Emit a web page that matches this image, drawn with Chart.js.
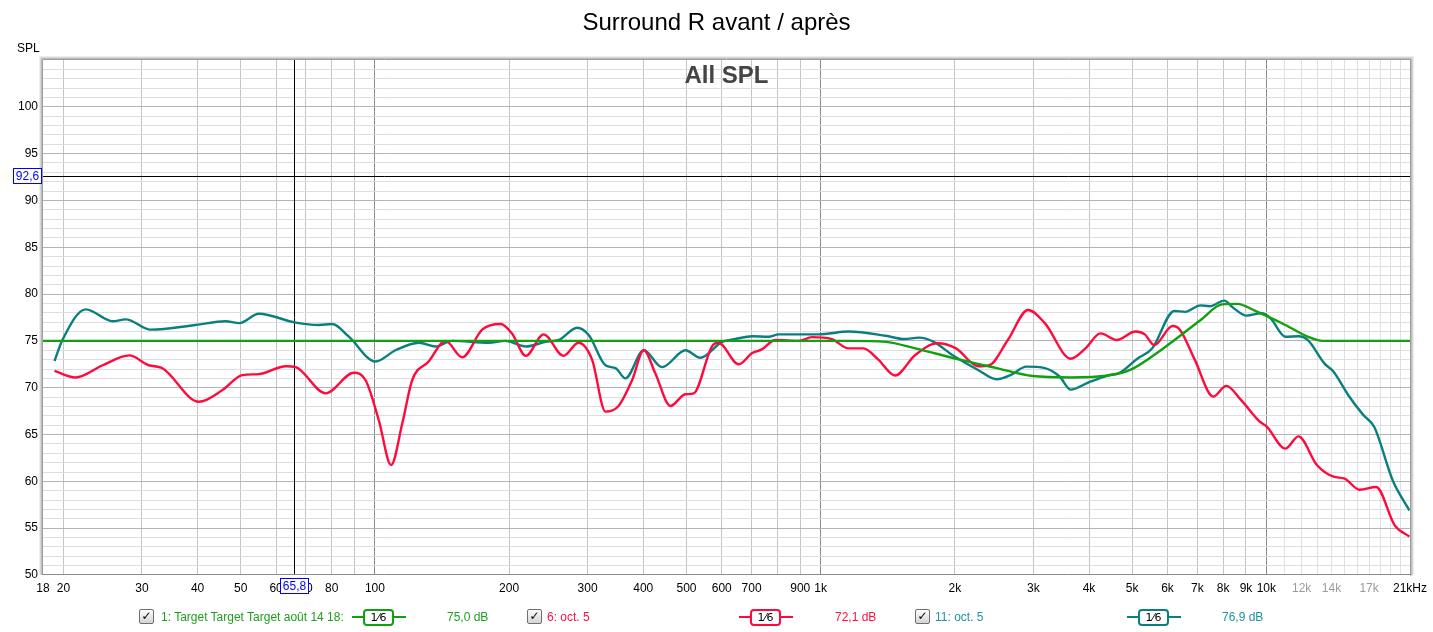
<!DOCTYPE html>
<html>
<head>
<meta charset="utf-8">
<script src="https://cdn.jsdelivr.net/npm/chart.js@4.4.0/dist/chart.umd.min.js"></script>
<style>
body { margin:0; background:#fff; font-family:"Liberation Sans", Arial, sans-serif; }
#wrap { position:relative; width:1433px; height:632px; overflow:hidden; }
#graphe { position:absolute; left:0; top:0; }
#titre { position:absolute; left:0; top:7px; width:1433px; text-align:center; font-size:24px; line-height:30px; color:#000; }
#spl { position:absolute; left:17px; top:41px; font-size:12px; line-height:14px; color:#000; }
.leg { position:absolute; top:609px; height:16px; line-height:16px; font-size:12px; white-space:nowrap; }
.chk { position:absolute; top:609px; width:13px; height:13px; border:1px solid #6f6f6f; border-radius:2px;
       background:linear-gradient(#fdfdfd,#d4d4d4); font-family:"DejaVu Sans", sans-serif; font-size:12px; font-weight:bold;
       line-height:13px; text-align:center; color:#000; }
.trait { position:absolute; top:616px; height:2px; }
.boite { position:absolute; top:609px; width:27px; height:13px; border:2px solid; border-radius:4px; background:#fff;
         font-family:"DejaVu Sans", sans-serif; font-size:11px; line-height:13px; text-align:center; color:#000; }
</style>
</head>
<body>
<div id="wrap">
  <canvas id="graphe" width="1433" height="632"></canvas>
  <div id="titre">Surround R avant / après</div>
  <div id="spl">SPL</div>

  <div class="chk" style="left:139px">✓</div>
  <div class="leg" style="left:161px;color:#1c9f1c">1: Target Target Target août 14 18:</div>
  <div class="trait" style="left:352px;width:54px;background:#10a010"></div>
  <div class="boite" style="left:363px;border-color:#10a010">1⁄6</div>
  <div class="leg" style="left:447px;color:#1c9f1c">75,0 dB</div>

  <div class="chk" style="left:527px">✓</div>
  <div class="leg" style="left:547px;color:#ff1040">6: oct. 5</div>
  <div class="trait" style="left:739px;width:54px;background:#ff0a3c"></div>
  <div class="boite" style="left:750px;border-color:#ff0a3c">1⁄6</div>
  <div class="leg" style="left:835px;color:#ff1040">72,1 dB</div>

  <div class="chk" style="left:915px">✓</div>
  <div class="leg" style="left:935px;color:#1a95a0">11: oct. 5</div>
  <div class="trait" style="left:1127px;width:54px;background:#0a7f80"></div>
  <div class="boite" style="left:1138px;border-color:#0a7f80">1⁄6</div>
  <div class="leg" style="left:1222px;color:#1a95a0">76,9 dB</div>
</div>

<script>
// courbes (Hz / dB)

const cibleFreq = [18, 1000, 1155, 1399, 1630, 2053, 2483, 2990, 3639, 4406, 4947, 5870, 7110, 7955, 8610, 9440, 11030, 12380, 13370, 14500, 21000];
const cibleSpl  = [75, 75, 75, 74.9, 74.2, 73.0, 72.1, 71.25, 71.1, 71.3, 71.9, 74.2, 77.2, 78.9, 78.95, 78.2, 76.7, 75.45, 75.0, 75.0, 75.0];

const mesure6Freq = [19.1, 21.3, 24.5, 28.1, 31.1, 33.3, 40.3, 45.5, 50.4, 54.9, 63.1, 66.4, 77.5, 89.7, 95.3, 102, 108.7, 115.2, 121.2, 132,
    144, 157, 174, 191.3, 203, 218, 239, 265, 286, 307, 329, 352, 377.5, 401, 426, 460, 497, 519, 570, 590,
    655, 702, 738, 791, 893, 956, 1059, 1155, 1247, 1347, 1468, 1630, 1828, 2012, 2256, 2390, 2630, 2921, 3184, 3639,
    3928, 4243, 4620, 5085, 5335, 5600, 6158, 6397, 6907, 7598, 8128, 8770, 9650, 10020, 11030, 11800, 12980, 14150, 14980, 16180,
    17630, 19410, 20930];
const mesure6Spl = [71.8, 71.1, 72.4, 73.45, 72.4, 72.1, 68.5, 69.75, 71.35, 71.45, 72.3, 72.2, 69.4, 71.6, 70.8, 66.55, 61.75, 66.2, 70.8, 72.8,
    75.0, 73.25, 76.2, 76.8, 75.8, 73.4, 75.7, 73.4, 74.8, 73.0, 67.45, 68.05, 70.8, 74.0, 71.5, 68.05, 69.3, 69.4, 74.4, 74.8,
    72.5, 73.7, 74.1, 75.1, 75.0, 75.4, 75.2, 74.2, 74.2, 73.0, 71.3, 73.5, 74.75, 74.2, 72.3, 72.4, 75.1, 78.3, 76.9, 73.1,
    74.2, 75.8, 75.1, 76.0, 75.7, 74.55, 76.6, 76.2, 73.0, 69.05, 70.2, 68.7, 66.4, 65.85, 63.5, 64.8, 61.75, 60.5, 60.3, 59.1,
    59.4, 55.3, 54.1];

const mesure11Freq = [19.1, 19.9, 22.45, 25.8, 27.6, 31.4, 39.6, 46.2, 49.6, 54.9, 66.4, 74.9, 80.2, 87.4, 100.3, 111.2, 125.5, 136.8, 149, 180,
    196, 218, 241.5, 258.6, 284.2, 302, 329, 346.6, 364.8, 401, 440.7, 497.4, 537, 601, 644, 701.6, 764, 805, 990, 1155,
    1399, 1539, 1662, 1794, 1974, 2256, 2483, 2680, 2893, 3184, 3436, 3639, 4004, 4406, 4666, 5134, 5542, 6217, 6580, 7110,
    7455, 8046, 8444, 9024, 9745, 10220, 11030, 11800, 12380, 13490, 14150, 15270, 16490, 17460, 19210, 20930];
const mesure11Spl = [72.85, 75.1, 78.37, 77.1, 77.3, 76.2, 76.7, 77.1, 76.9, 77.9, 76.95, 76.7, 76.8, 75.45, 72.8, 74.0, 74.8, 74.4, 75.0, 74.8,
    75.0, 74.4, 74.9, 75.1, 76.4, 75.6, 72.4, 72.1, 71.0, 74.0, 72.2, 74.0, 73.2, 74.9, 75.2, 75.5, 75.45, 75.7, 75.7, 76.0,
    75.55, 75.2, 75.35, 74.9, 73.5, 71.9, 70.9, 71.4, 72.25, 72.1, 71.2, 69.8, 70.6, 71.3, 71.55, 73.1, 74.2, 78.2, 78.1, 78.8,
    78.7, 79.3, 78.5, 77.7, 77.95, 77.4, 75.45, 75.5, 75.1, 72.6, 71.7, 69.2, 67.1, 65.8, 60.1, 56.9];

// axes
const grilleX = [20, 30, 40, 50, 60, 70, 80, 90, 100, 200, 300, 400, 500, 600, 700, 800, 900,
    1000, 2000, 3000, 4000, 5000, 6000, 7000, 8000, 9000,
    10000, 11000, 12000, 13000, 14000, 15000, 16000, 17000, 18000, 19000, 20000];
const etiqXVal = [18, 20, 30, 40, 50, 60, 70, 80, 100, 200, 300, 400, 500, 600, 700, 900,
    1000, 2000, 3000, 4000, 5000, 6000, 7000, 8000, 9000, 10000, 12000, 14000, 17000, 21000];
const etiqXTxt = ['18', '20', '30', '40', '50', '60', '70', '80', '100', '200', '300', '400', '500', '600', '700', '900',
    '1k', '2k', '3k', '4k', '5k', '6k', '7k', '8k', '9k', '10k', '12k', '14k', '17k', '21kHz'];
const etiqXGris = [12000, 14000, 17000];
const xMin = 18, xMax = 21000;
const yMin = 50, yMax = 105;

// curseur
const curseurFreq = 65.8;
const curseurSpl = 92.6;

const police = '"Liberation Sans", Arial, sans-serif';

function points(fr, db) {
    return fr.map((f, i) => ({x: f, y: db[i]}));
}

function couleurGrilleX(v) {
    if (v === undefined || v === xMin || v === xMax) return 'rgba(0,0,0,0)';
    if (v === 100 || v === 1000 || v === 10000) return '#8a8a8a';
    if (v > 10000) return '#e0e0e0';
    return '#c4c4c4';
}

const cadre = {
    id: 'cadre',
    beforeDatasetsDraw(chart) {
        const {ctx, chartArea: a, scales} = chart;
        const cx = Math.round(scales.x.getPixelForValue(curseurFreq)) + 0.5;
        const cy = Math.round(scales.y.getPixelForValue(curseurSpl)) + 0.5;
        ctx.save();
        ctx.strokeStyle = '#000';
        ctx.lineWidth = 1;
        ctx.beginPath();
        ctx.moveTo(cx, a.top); ctx.lineTo(cx, a.bottom);
        ctx.moveTo(a.left, cy); ctx.lineTo(a.right, cy);
        ctx.stroke();
        ctx.restore();
    },
    afterDraw(chart) {
        const {ctx, chartArea: a, scales} = chart;
        ctx.save();
        // bord du graphe
        const l = Math.round(a.left), r = Math.round(a.right), t = Math.round(a.top), b = Math.round(a.bottom);
        const teintes = ['#9c9c9c', '#bdbdbd', '#d6d6d6', '#ececec'];
        teintes.forEach((c, i) => {
            ctx.strokeStyle = c;
            ctx.lineWidth = 1;
            ctx.beginPath();
            ctx.moveTo(l - i - 0.5, b);
            ctx.lineTo(l - i - 0.5, t - i - 0.5);
            ctx.lineTo(r + i + 0.5, t - i - 0.5);
            ctx.lineTo(r + i + 0.5, b + 0.5);
            ctx.stroke();
        });
        ctx.strokeStyle = '#8c8c8c';
        ctx.beginPath();
        ctx.moveTo(l - 1, b - 0.5); ctx.lineTo(r + 1, b - 0.5);
        ctx.stroke();

        // titre interne
        ctx.fillStyle = '#444';
        ctx.font = 'bold 24px ' + police;
        ctx.textAlign = 'center';
        ctx.textBaseline = 'middle';
        ctx.fillText('All SPL', (a.left + a.right) / 2, 76);

        // etiquettes du curseur
        ctx.font = '12px ' + police;
        const cx = Math.round(scales.x.getPixelForValue(curseurFreq));
        const cy = Math.round(scales.y.getPixelForValue(curseurSpl));
        const txtY = String(curseurSpl).replace('.', ',');
        const txtX = String(curseurFreq).replace('.', ',');
        ctx.fillStyle = '#fff';
        ctx.fillRect(13, cy - 8, 29, 16);
        ctx.strokeStyle = '#0000ff';
        ctx.strokeRect(13.5, cy - 7.5, 28, 15);
        ctx.fillStyle = '#0000ff';
        ctx.fillText(txtY, 27.5, cy + 0.5);
        ctx.fillStyle = '#fff';
        ctx.fillRect(cx - 14, b + 3, 29, 16);
        ctx.strokeStyle = '#0000ff';
        ctx.strokeRect(cx - 13.5, b + 3.5, 28, 15);
        ctx.fillStyle = '#0000ff';
        ctx.fillText(txtX, cx + 0.5, b + 11.5);
        ctx.restore();
    }
};

const ligne = (couleur) => ({
    borderColor: couleur,
    backgroundColor: couleur,
    borderWidth: 2.4,
    pointRadius: 0,
    fill: false,
    cubicInterpolationMode: 'monotone'
});

const data = {
    datasets: [
        Object.assign({label: '1: Target Target Target août 14 18:', data: points(cibleFreq, cibleSpl)}, ligne('#10a010')),
        Object.assign({label: '6: oct. 5', data: points(mesure6Freq, mesure6Spl)}, ligne('#ff0a3c')),
        Object.assign({label: '11: oct. 5', data: points(mesure11Freq, mesure11Spl)}, ligne('#0a7f80'))
    ]
};

const config = {
    type: 'line',
    data: data,
    plugins: [cadre],
    options: {
        responsive: false,
        animation: false,
        devicePixelRatio: 1,
        parsing: true,
        layout: {padding: {top: 60, right: 22, left: 0, bottom: 0}},
        plugins: {
            legend: {display: false},
            title: {display: false},
            tooltip: {enabled: false}
        },
        scales: {
            x: {
                type: 'logarithmic',
                min: xMin,
                max: xMax,
                afterBuildTicks: function(scale) {
                    scale.ticks = [xMin].concat(grilleX, [xMax]).map(v => ({value: v}));
                },
                afterFit: function(scale) { scale.height = 57; },
                border: {display: false},
                grid: {
                    drawTicks: false,
                    lineWidth: 1,
                    color: function(c) { return couleurGrilleX(c.tick && c.tick.value); }
                },
                ticks: {
                    autoSkip: false,
                    maxRotation: 0,
                    padding: 6,
                    font: {size: 12, family: police},
                    color: function(c) {
                        return c.tick && etiqXGris.includes(c.tick.value) ? '#9a9a9a' : '#000';
                    },
                    callback: function(value) {
                        const i = etiqXVal.indexOf(value);
                        return i >= 0 ? etiqXTxt[i] : '';
                    }
                }
            },
            y: {
                type: 'linear',
                min: yMin,
                max: yMax,
                afterBuildTicks: function(scale) {
                    const t = [];
                    for (let v = yMin; v <= yMax; v++) t.push({value: v});
                    scale.ticks = t;
                },
                afterFit: function(scale) { scale.width = 43; },
                border: {display: false},
                grid: {
                    drawTicks: false,
                    lineWidth: 1,
                    color: function(c) {
                        const v = c.tick && c.tick.value;
                        if (v === yMin || v === yMax) return 'rgba(0,0,0,0)';
                        return v % 5 === 0 ? '#b4b4b4' : '#dedede';
                    }
                },
                ticks: {
                    autoSkip: false,
                    padding: 5,
                    font: {size: 12, family: police},
                    color: '#000',
                    callback: function(value) {
                        return (value % 5 === 0 && value <= 100) ? String(value) : '';
                    }
                }
            }
        }
    }
};

const graphe = new Chart(document.getElementById('graphe'), config);
</script>
</body>
</html>
